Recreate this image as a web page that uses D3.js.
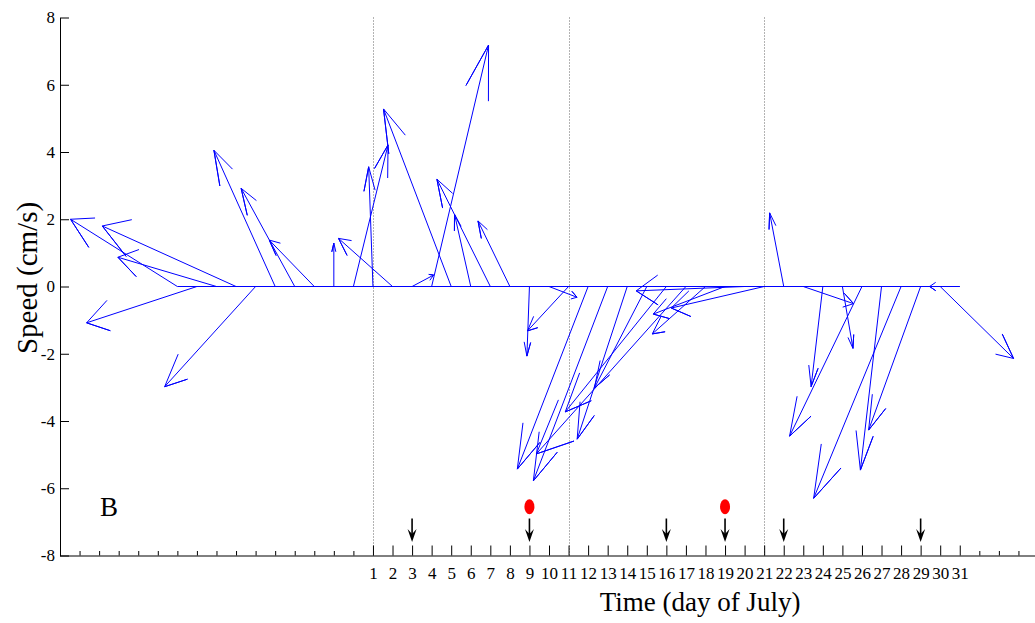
<!DOCTYPE html>
<html>
<head>
<meta charset="utf-8">
<script src="https://cdn.jsdelivr.net/npm/d3@7"></script>
<style>
  body { margin: 0; background: #fff; }
  svg { display: block; font-family: "Liberation Serif", "Times New Roman", serif; }
</style>
</head>
<body>
<div id="chart"></div>
<script>
/* Feather plot of current vectors, panel B (day of July). */

const width = 1035,
    height = 623,
    margin = ({ top: 17.5, right: 0, bottom: 67.5, left: 60 });

// one vector per day, day 1 = 1 July (days <= 0 are late June)
const days = [-9, -8, -7, -6, -5, -4, -3, -2, -1, 0, 1, 2, 3, 4, 5, 6, 7, 8, 9, 10,
    11, 12, 13, 14, 15, 16, 17, 18, 19, 20, 21, 22, 23, 24, 25, 26, 27, 28, 29, 30, 31];

// east component (cm/s)
const uSpeed = [-5.46, -5.64, -5.04, -6.84, -4.65, -3.13, -2.74, -2.30, 0.0, 1.77,
    -0.22, -2.76, 1.10, 2.91, -3.46, -0.83, -2.73, -1.63, -0.13, 1.43,
    -2.10, -3.62, -3.80, -2.56, -2.68, -5.17, -7.65, -2.72, -3.67, -5.54,
    -4.75, -0.72, 2.57, -0.60, 0.54, -3.70, -1.08, -4.47, -2.66, 3.75, -1.54];

// north component (cm/s)
const vSpeed = [2.00, -1.08, 0.87, 1.80, -2.98, 4.05, 2.92, 1.38, 1.29, 4.21,
    3.56, 1.43, 0.34, 7.18, 5.28, 2.15, 3.19, 1.95, -2.07, -0.32,
    -1.32, -5.43, -5.78, -4.54, -3.02, -3.73, -4.98, -1.41, -0.82, -0.13,
    -0.64, 2.19, -0.51, -2.98, -1.84, -4.45, -5.46, -6.30, -4.27, -2.14, 0.0];

const labelDays = d3.range(1, 32);      // labelled ticks
const minorDays = [-14, -13, -12, -11, -10, -9, -8, -7, -6, -5, -4, -3, -2, -1, 0, 32, 33, 34];
const dividerDays = [1, 11, 21];       // dotted separators
const eventDays = [3, 9, 16, 19, 22, 29];   // black arrows
const dotDays = [9, 19];               // red markers
const yTicks = [-8, -6, -4, -2, 0, 2, 4, 6, 8];

const svg = d3.select("#chart")
    .append("svg")
    .attr("width", width)
    .attr("height", height)
    .attr("viewBox", [0, 0, width, height]);

let x = d3.scaleLinear()
    .domain([-15, 35])
    .range([margin.left, margin.left + 50 * 19.56]);

let y = d3.scaleLinear()
    .domain([-8, 8])
    .range([height - margin.bottom, margin.top]);

// dotted day separators
svg.append("g")
    .selectAll("line")
    .data(dividerDays)
    .join("line")
    .attr("x1", d => Math.round(x(d)) + 0.5)
    .attr("x2", d => Math.round(x(d)) + 0.5)
    .attr("y1", y(8))
    .attr("y2", y(-8))
    .attr("stroke", "#666")
    .attr("stroke-dasharray", "1,2");

// x axis: short unlabelled ticks, longer labelled ones
svg.append("g")
    .attr("transform", `translate(0,${y(-8)})`)
    .call(d3.axisBottom(x).tickValues(minorDays).tickSize(-4.5).tickSizeOuter(0).tickFormat(""))
    .call(g => g.select(".domain").attr("d", `M${margin.left},0.5H${width}`));

svg.append("g")
    .attr("transform", `translate(0,${y(-8)})`)
    .call(d3.axisBottom(x).tickValues(labelDays).tickSize(-10).tickPadding(11).tickFormat(d => String(d)))
    .call(g => g.select(".domain").remove())
    .call(g => g.selectAll("text").attr("font-size", 17).attr("font-family", "Liberation Serif").attr("fill", "#000"));

svg.append("g")
    .attr("transform", `translate(${margin.left},0)`)
    .call(d3.axisLeft(y).tickValues(yTicks).tickSize(-9).tickPadding(5).tickSizeOuter(0).tickFormat(d => String(d)))
    .call(g => g.selectAll("text").attr("font-size", 17).attr("font-family", "Liberation Serif").attr("fill", "#000"));

svg.append("text")
    .attr("text-anchor", "middle")
    .attr("x", 700)
    .attr("y", 611)
    .attr("font-size", 27)
    .text("Time (day of July)");

svg.append("text")
    .attr("text-anchor", "middle")
    .attr("transform", "translate(37,278) rotate(-90)")
    .attr("font-size", 29)
    .text("Speed (cm/s)");

svg.append("text")
    .attr("x", 100)
    .attr("y", 516)
    .attr("font-size", 27)
    .text("B");

// feather: shaft from (day, 0) to (day+u, v) with a Matlab-style open head
let vectors = days.map((d, i) => ({ t: d, u: uSpeed[i], v: vSpeed[i] }));

let line = d3.line()
    .x(p => x(p[0]))
    .y(p => y(p[1]));

function arrowPoints(d) {
    let tip = [d.t + d.u, d.v];
    return [
        [d.t, 0],
        tip,
        [d.t + 0.8 * d.u - 0.08 * d.v, 0.8 * d.v + 0.08 * d.u],
        tip,
        [d.t + 0.8 * d.u + 0.08 * d.v, 0.8 * d.v - 0.08 * d.u]
    ];
}

svg.append("path")
    .attr("d", line([[days[0], 0], [days[days.length - 1], 0]]))
    .attr("fill", "none")
    .attr("stroke", "#0000ff")
    .attr("stroke-width", 1);

svg.append("g")
    .selectAll("path")
    .data(vectors)
    .join("path")
    .attr("d", d => line(arrowPoints(d)))
    .attr("fill", "none")
    .attr("stroke", "#0000ff")
    .attr("stroke-width", 1)
    .attr("stroke-linejoin", "miter");

// event markers near the bottom
const eventTop = -6.9, eventTip = -7.6, dotLevel = -6.55;

let events = svg.append("g");
events.selectAll("line")
    .data(eventDays)
    .join("line")
    .attr("x1", d => x(d))
    .attr("x2", d => x(d))
    .attr("y1", y(eventTop))
    .attr("y2", y(eventTip) - 5)
    .attr("stroke", "#000")
    .attr("stroke-width", 1.6);

events.selectAll("path")
    .data(eventDays)
    .join("path")
    .attr("d", d => {
        let cx = x(d), ty = y(eventTip);
        return `M${cx},${ty}L${cx - 4.5},${ty - 13}L${cx},${ty - 8}L${cx + 4.5},${ty - 13}Z`;
    })
    .attr("fill", "#000");

svg.append("g")
    .selectAll("ellipse")
    .data(dotDays)
    .join("ellipse")
    .attr("cx", d => x(d))
    .attr("cy", y(dotLevel))
    .attr("rx", 5)
    .attr("ry", 7.5)
    .attr("fill", "#ff0000");
</script>
</body>
</html>
